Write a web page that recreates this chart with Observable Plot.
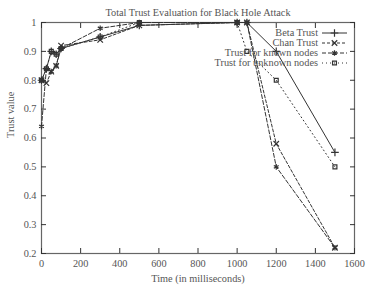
<!DOCTYPE html>
<html><head><meta charset="utf-8">
<script src="https://cdn.jsdelivr.net/npm/d3@7"></script>
<script src="https://cdn.jsdelivr.net/npm/@observablehq/plot@0.6"></script>
<style>body{margin:0;background:#fff}</style>
</head><body><div id="chart"></div>
<script>
const title = "Total Trust Evaluation for Black Hole Attack";
const xLabel = "Time (in milliseconds)";
const yLabel = "Trust value";
const xTicks = [0, 200, 400, 600, 800, 1000, 1200, 1400, 1600];
const yTicks = [0.2, 0.3, 0.4, 0.5, 0.6, 0.7, 0.8, 0.9, 1];
const seriesNames = ["Beta Trust", "Chan Trust", "Trust for known nodes", "Trust for unknown nodes"];

const betaX = [0, 25, 50, 75, 100, 300, 500, 1000, 1050, 1200, 1500];
const betaY = [0.80, 0.84, 0.90, 0.89, 0.91, 0.95, 0.99, 1, 1, 0.90, 0.55];
const chanX = [0, 25, 50, 75, 100, 300, 500, 1000, 1050, 1200, 1500];
const chanY = [0.80, 0.79, 0.83, 0.85, 0.92, 0.94, 0.99, 1, 1, 0.58, 0.22];
const knownX = [0, 25, 50, 75, 100, 300, 500, 1000, 1050, 1200, 1500];
const knownY = [0.64, 0.84, 0.83, 0.85, 0.91, 0.98, 1, 1, 1, 0.50, 0.22];
const unknownX = [0, 25, 50, 75, 100, 300, 500, 1000, 1050, 1200, 1500];
const unknownY = [0.80, 0.84, 0.90, 0.89, 0.91, 0.95, 1, 1, 0.90, 0.80, 0.50];

const styles = [
  {symbol: "plus", dash: null, r: 2.6},
  {symbol: "times", dash: "3,2", r: 2.6},
  {symbol: "asterisk", dash: "4,2", r: 2.6},
  {symbol: "square", dash: "1,3", r: 2.2}
];
const xs = [betaX, chanX, knownX, unknownX];
const ys = [betaY, chanY, knownY, unknownY];
const series = seriesNames.map((name, i) => xs[i].map((x, j) => ({name, x, y: ys[i][j]})));

const ink = "#333";
const textInk = "#555";
const font = "Liberation Serif, Times New Roman, serif";
const fs = 10.3;

const marks = [];
series.forEach((data, i) => {
  const s = styles[i];
  marks.push(Plot.line(data, {x: "x", y: "y", stroke: ink, strokeWidth: 1, strokeDasharray: s.dash}));
  marks.push(Plot.dot(data, {x: "x", y: "y", symbol: () => s.symbol, stroke: ink, fill: "none", r: s.r, strokeWidth: 1.2}));
});

const symMap = {plus: d3.symbolPlus, times: d3.symbolTimes, asterisk: d3.symbolAsterisk, square: d3.symbolSquare};
// legend inside the frame, upper right
const legend = (index, scales, values, dims) => {
  const g = d3.create("svg:g").attr("font-family", font).attr("font-size", fs);
  const right = dims.width - dims.marginRight;
  const x2 = right - 7, x1 = x2 - 25, tx = x1 - 4;
  seriesNames.forEach((name, i) => {
    const y = dims.marginTop + 11 + i * 10;
    g.append("text").attr("x", tx).attr("y", y).attr("dy", "0.32em").attr("text-anchor", "end").attr("fill", textInk).text(name);
    g.append("line").attr("x1", x1).attr("x2", x2).attr("y1", y).attr("y2", y).attr("stroke", ink).attr("stroke-dasharray", styles[i].dash);
    g.append("path").attr("transform", `translate(${(x1 + x2) / 2},${y})`)
      .attr("d", d3.symbol(symMap[styles[i].symbol], Math.PI * styles[i].r ** 2)())
      .attr("fill", "none").attr("stroke", ink).attr("stroke-width", 1.2);
  });
  return g.node();
};

const chart = Plot.plot({
  width: 373,
  height: 291,
  marginLeft: 41,
  marginRight: 19,
  marginTop: 22,
  marginBottom: 38,
  style: {fontFamily: font, fontSize: fs + "px", color: textInk, background: "#fff"},
  x: {domain: [0, 1600]},
  y: {domain: [0.2, 1]},
  marks: [
    Plot.frame({stroke: "#666", strokeWidth: 1.2}),
    Plot.axisX(xTicks, {anchor: "bottom", tickSize: -5, tickPadding: 11, stroke: ink, fill: textInk, tickFormat: d => String(d), label: null}),
    Plot.axisX(xTicks, {anchor: "top", tickSize: -5, tickFormat: () => "", stroke: ink, label: null}),
    Plot.axisY(yTicks, {anchor: "left", tickSize: -5, tickPadding: 10, stroke: ink, fill: textInk, tickFormat: d => String(+d.toFixed(1)), label: null}),
    Plot.axisY(yTicks, {anchor: "right", tickSize: -5, tickFormat: () => "", stroke: ink, label: null}),
    Plot.text([xLabel], {frameAnchor: "bottom", dy: 28, text: d => d, fill: textInk, fontSize: fs}),
    Plot.text([yLabel], {frameAnchor: "left", dx: -31, rotate: -90, text: d => d, fill: textInk, fontSize: fs}),
    Plot.text([title], {frameAnchor: "top", dy: -14, text: d => d, fill: textInk, fontSize: fs}),
    ...marks,
    legend
  ]
});
document.getElementById("chart").appendChild(chart);
</script>
</body></html>
